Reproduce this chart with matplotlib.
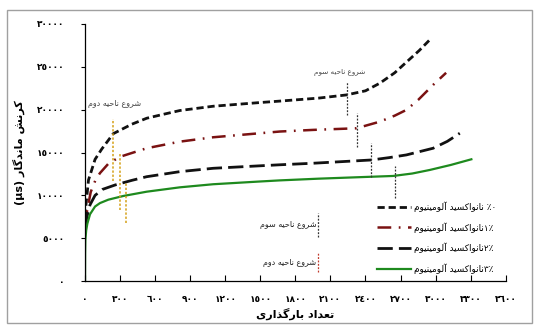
import matplotlib
matplotlib.use('Agg')
import matplotlib.pyplot as plt
from matplotlib.patches import Rectangle

# ─────────────────────────────────────────────────────────────────────────────
# Data
# ─────────────────────────────────────────────────────────────────────────────
x_0 = [0, 9, 30, 86, 143, 242, 400, 528, 684, 812, 1097, 1497, 1668, 2000,
       2238, 2400, 2523, 2650, 2763, 2860, 2950]
y_0 = [6200, 9000, 11800, 14200, 15400, 17200, 18300, 19000, 19500, 19900,
       20400, 20830, 21000, 21350, 21720, 22200, 23090, 24300, 25700, 26900,
       28150]

x_1 = [0, 15, 49, 90, 128, 200, 299, 528, 812, 1097, 1497, 1668, 1953, 2323,
       2523, 2650, 2750, 2851, 2979, 3090]
y_1 = [5600, 8000, 10400, 11800, 12600, 13700, 14500, 15500, 16270, 16780,
       17250, 17450, 17640, 17830, 18600, 19300, 19970, 21140, 22890, 24300]

x_2 = [0, 20, 43, 86, 150, 257, 400, 528, 812, 1097, 1497, 1668, 1953, 2451,
       2600, 2750, 2979, 3100, 3207]
y_2 = [6300, 7700, 8900, 10000, 10700, 11210, 11750, 12180, 12770, 13160,
       13450, 13570, 13750, 14130, 14400, 14720, 15500, 16300, 17250]

x_3 = [0, 1, 3, 10, 20, 43, 86, 128, 200, 328, 528, 812, 1097, 1497, 1668,
       2000, 2300, 2636, 2800, 2950, 3130, 3306]
y_3 = [0, 3200, 4800, 5900, 6700, 7800, 8700, 9100, 9500, 9930, 10430, 10940,
       11300, 11620, 11750, 11950, 12100, 12265, 12550, 12965, 13550, 14210]

reg2_x = [240, 300, 350]
reg2_lo = [11700, 8300, 6800]
reg2_hi = [18900, 14900, 11500]

reg3_x = [2240, 2330, 2450, 2650]
reg3_lo = [19400, 15600, 12200, 9700]
reg3_hi = [23200, 19600, 16100, 13400]

x_ticks = [0, 300, 600, 900, 1200, 1500, 1800, 2100, 2400, 2700, 3000, 3300, 3600]
y_ticks = [0, 5000, 10000, 15000, 20000, 25000, 30000]


# ─────────────────────────────────────────────────────────────────────────────
# Minimal Persian shaping (matplotlib does no joining / bidi)
# ─────────────────────────────────────────────────────────────────────────────
FORMS = {
    'ا': ('\uFE8D', '\uFE8E'), 'آ': ('\uFE81', '\uFE82'),
    'د': ('\uFEA9', '\uFEAA'), 'ذ': ('\uFEAB', '\uFEAC'),
    'ر': ('\uFEAD', '\uFEAE'), 'و': ('\uFEED', '\uFEEE'),
    'ب': ('\uFE8F', '\uFE90', '\uFE91', '\uFE92'),
    'ت': ('\uFE95', '\uFE96', '\uFE97', '\uFE98'),
    'ح': ('\uFEA1', '\uFEA2', '\uFEA3', '\uFEA4'),
    'س': ('\uFEB1', '\uFEB2', '\uFEB3', '\uFEB4'),
    'ش': ('\uFEB5', '\uFEB6', '\uFEB7', '\uFEB8'),
    'ع': ('\uFEC9', '\uFECA', '\uFECB', '\uFECC'),
    'ل': ('\uFEDD', '\uFEDE', '\uFEDF', '\uFEE0'),
    'م': ('\uFEE1', '\uFEE2', '\uFEE3', '\uFEE4'),
    'ن': ('\uFEE5', '\uFEE6', '\uFEE7', '\uFEE8'),
    'ه': ('\uFEE9', '\uFEEA', '\uFEEB', '\uFEEC'),
    'ک': ('\uFB8E', '\uFB8F', '\uFB90', '\uFB91'),
    'گ': ('\uFB92', '\uFB93', '\uFB94', '\uFB95'),
    'ی': ('\uFBFC', '\uFBFD', '\uFBFE', '\uFBFF'),
}


def fa(text):
    """Shape Persian letters and return them in visual (left-to-right) order."""
    out = []
    for i, ch in enumerate(text):
        if ch not in FORMS:
            out.append(ch)
            continue
        f = FORMS[ch]
        prev = text[i - 1] if i > 0 else ''
        nxt = text[i + 1] if i + 1 < len(text) else ''
        join_prev = prev in FORMS and len(FORMS[prev]) == 4
        join_next = nxt in FORMS and len(f) == 4
        if join_prev and join_next:
            out.append(f[3])
        elif join_prev:
            out.append(f[1])
        elif join_next:
            out.append(f[2])
        else:
            out.append(f[0])
    return ''.join(out)[::-1]


AR_DIGITS = str.maketrans('0123456789', '٠١٢٣٤٥٦٧٨٩')


def ar_num(v):
    return str(v).translate(AR_DIGITS)


# ─────────────────────────────────────────────────────────────────────────────
# Figure
# ─────────────────────────────────────────────────────────────────────────────
plt.rcParams['font.family'] = ['DejaVu Sans']

fig = plt.figure(figsize=(5.38, 3.28), dpi=100)
ax = fig.add_axes([0.158, 0.143, 0.782, 0.784])

fig.patches.append(Rectangle((7 / 538, 1 - 323 / 328), 525 / 538, 313 / 328,
                             transform=fig.transFigure, fill=False,
                             edgecolor='#a0a0a0', linewidth=1.0))

word = 'نانواکسید آلومینیوم'
labels = [
    fa(word) + ' ٪٠',
    fa(word) + '١٪',
    fa(word) + '٢٪',
    fa(word) + '٣٪',
]

l0, = ax.plot(x_0, y_0, color='#111111', lw=2.0, dashes=(2.6, 1.4))
l1, = ax.plot(x_1, y_1, color='#7a1212', lw=1.8, dashes=(5.5, 3, 0.7, 3))
l2, = ax.plot(x_2, y_2, color='#111111', lw=2.0, dashes=(5.5, 2.2))
l3, = ax.plot(x_3, y_3, color='#1e8a1e', lw=1.6)

# region markers
for x, lo, hi in zip(reg2_x, reg2_lo, reg2_hi):
    ax.plot([x, x], [lo, hi], color='#d4a017', lw=1.1, ls=(0, (1.5, 1.2)))
for x, lo, hi in zip(reg3_x, reg3_lo, reg3_hi):
    ax.plot([x, x], [lo, hi], color='#333333', lw=0.9, ls=(0, (1.5, 1.2)))

ax.text(257, 20700, fa('شروع ناحیه دوم'), fontsize=5.8, color='#444444',
        ha='center', va='center')
ax.text(2180, 24300, fa('شروع ناحیه سوم'), fontsize=5.2, color='#444444',
        ha='center', va='center')

# small key for the markers
ax.plot([1993, 1993], [5150, 7950], color='#333333', lw=0.9, ls=(0, (1.5, 1.2)))
ax.plot([1993, 1993], [1050, 3400], color='#c0392b', lw=0.9, ls=(0, (1.5, 1.2)))
ax.text(1980, 6550, fa('شروع ناحیه سوم'), fontsize=5.8, color='#222222',
        ha='right', va='center')
ax.text(1980, 2150, fa('شروع ناحیه دوم'), fontsize=5.8, color='#222222',
        ha='right', va='center')

ax.legend([l0, l1, l2, l3], labels, loc='upper left',
          bbox_to_anchor=(0.693, 0.31), frameon=False, fontsize=6.4,
          handlelength=3.9, handletextpad=0.3, labelspacing=1.15,
          borderpad=0, borderaxespad=0)

ax.set_xlim(0, 3600)
ax.set_ylim(0, 30000)
ax.set_xticks(x_ticks)
ax.set_xticklabels([ar_num(v) for v in x_ticks], fontsize=6.5, fontweight='bold')
ax.set_yticks(y_ticks)
ax.set_yticklabels([ar_num(v) for v in y_ticks], fontsize=6.5, fontweight='bold')

ax.tick_params(axis='x', direction='in', length=4, width=0.8, pad=10)
ax.tick_params(axis='y', direction='out', length=3, width=0.8, pad=12)

for s in ['top', 'right']:
    ax.spines[s].set_visible(False)
for s in ['left', 'bottom']:
    ax.spines[s].set_linewidth(0.9)

ax.set_xlabel(fa('تعداد بارگذاری'), fontsize=8, fontweight='bold', labelpad=3)
ax.set_ylabel('(µs) ' + fa('کرنش ماندگار'), fontsize=8, fontweight='bold',
              labelpad=8)

fig.savefig('out.png', dpi=100)
